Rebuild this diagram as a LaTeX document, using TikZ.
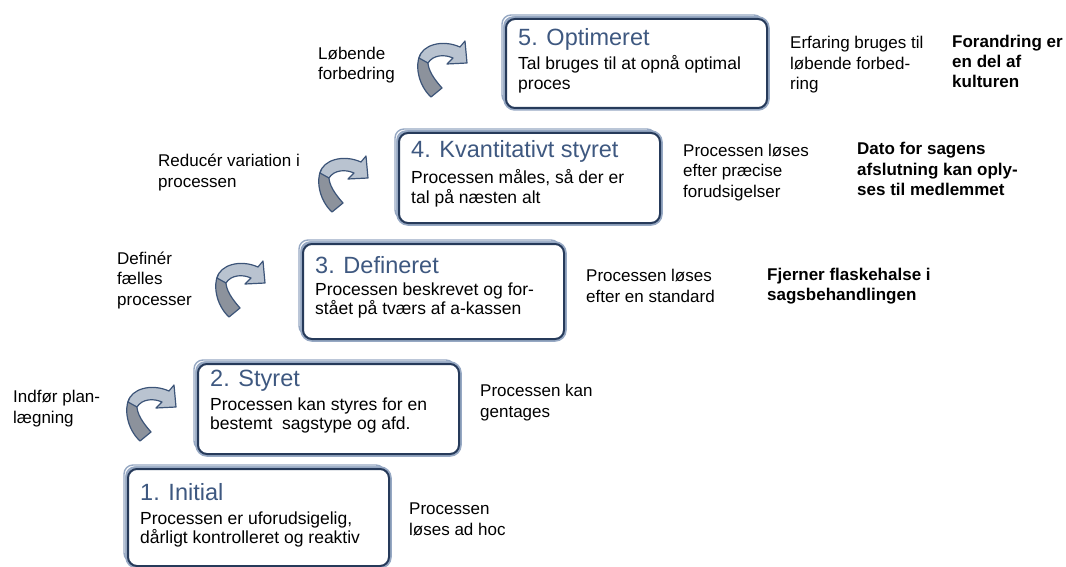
\documentclass[tikz,border=0pt]{standalone}
\usepackage{fontspec}
\setmainfont{Liberation Sans}
\usetikzlibrary{positioning,shadows}
\definecolor{stagedark}{RGB}{38,58,90}
\definecolor{stagelight}{RGB}{150,168,195}
\definecolor{stagetitle}{RGB}{62,88,128}
\definecolor{turnline}{RGB}{60,84,120}
\definecolor{turndark}{RGB}{140,146,156}
\definecolor{turnlight}{RGB}{185,195,208}
\tikzset{%
   stage/.style={
      rectangle,
      rounded corners=9pt,
      inner sep=0pt,
      minimum width=261pt,
      draw=stagedark,
      line width=2pt,
      fill=white,
      double copy shadow={shadow xshift=-2pt, shadow yshift=2pt,
        draw=stagelight, fill=white, line width=1.4pt},
      preaction={draw=stagelight, line width=5.5pt}
   },
   stitle/.style={
      inner sep=0pt,
      text=stagetitle,
      font=\fontsize{23.5}{26}\selectfont
   },
   sbody/.style={
      inner sep=0pt,
      align=left,
      font=\fontsize{17.5}{19.5}\selectfont
   },
   note/.style={
      inner sep=0pt,
      align=left,
      anchor=base west,
      font=\fontsize{17}{20.5}\selectfont
   },
   bnote/.style={
      note,
      font=\bfseries\fontsize{17}{20}\selectfont
   },
   turn/.pic={
      \draw[turnline, line width=1.2pt, fill=turndark, line join=round]
         (29,67) -- (40,58) .. controls (33,50) and (25,40) .. (26,30)
         -- (18,25) .. controls (13,35) and (16,55) .. cycle;
      \draw[turnline, line width=1.2pt, fill=turnlight, line join=round]
         (17,28) .. controls (20,15) and (40,9) .. (58,17)
         -- (63,11) -- (65,33) -- (45,34) -- (51,28)
         .. controls (42,24) and (31,25) .. (26,33) -- cycle;
   }
}
\newcommand\stagebox[5]{%
  \node[stage, anchor=north west, minimum height=#3pt] (s#1) at (#2) {};
  \node[stitle, below right=#4pt and 13pt of s#1.north west, anchor=base west] (t#1) {#5};
}

\begin{document}
\begin{tikzpicture}[x=1pt, y=-1pt]
   \useasboundingbox (0,0) rectangle (1066,567);

   \stagebox{1}{127,468}{97}{32}{1. Initial}
   \node[sbody, below right=75.5pt and 13pt of s1.north west, anchor=base west] (b1)
      {Processen er uforudsigelig,\\dårligt kontrolleret og reaktiv};
   \stagebox{2}{197,363}{90}{23}{2. Styret}
   \node[sbody, below right=66.5pt and 13pt of s2.north west, anchor=base west] (b2)
      {Processen kan styres for en\\bestemt\ \ sagstype og afd.};
   \stagebox{3}{302,243}{95}{30}{3. Defineret}
   \node[sbody, below right=71.5pt and 13pt of s3.north west, anchor=base west] (b3)
      {Processen beskrevet og for-\\stået på tværs af a-kassen};
   \stagebox{4}{398,132}{90}{26}{4. Kvantitativt styret}
   \node[sbody, below right=71.5pt and 13pt of s4.north west, anchor=base west] (b4)
      {Processen måles, så der er\\tal på næsten alt};
   \stagebox{5}{505,18}{89}{28}{5. Optimeret}
   \node[sbody, below right=71.5pt and 13pt of s5.north west, anchor=base west] (b5)
      {Tal bruges til at opnå optimal\\proces};

   \node[note, below right=67pt and 19pt of s1.north east, anchor=base west] (r1)
      {Processen\\løses ad hoc};
   \node[note, below right=54pt and 20pt of s2.north east, anchor=base west] (r2)
      {Processen kan\\gentages};
   \node[note, below right=59pt and 21pt of s3.north east, anchor=base west] (r3)
      {Processen løses\\efter en standard};
   \node[note, below right=65pt and 22pt of s4.north east, anchor=base west] (r4)
      {Processen løses\\efter præcise\\forudsigelser};
   \node[note, below right=72pt and 22pt of s5.north east, anchor=base west] (r5)
      {Erfaring bruges til\\løbende forbed-\\ring};

   \node[bnote] (g3) at (767,300) {Fjerner flaskehalse i\\sagsbehandlingen};
   \node[bnote] (g4) at (857,195) {Dato for sagens\\afslutning kan oply-\\ses til medlemmet};
   \node[bnote] (g5) at (952,88) {Forandring er\\en del af\\kulturen};

   \node[note] (l2) at (13,423) {Indfør plan-\\lægning};
   \node[note] (l3) at (117,305) {Definér\\fælles\\processer};
   \node[note] (l4) at (158,187) {Reducér variation i\\processen};
   \node[note] (l5) at (318,80) {Løbende\\forbedring};

   \pic (a2) at (111,374) {turn};
   \pic (a3) at (200,250) {turn};
   \pic (a4) at (303,145) {turn};
   \pic (a5) at (402,30) {turn};
\end{tikzpicture}
\end{document}
